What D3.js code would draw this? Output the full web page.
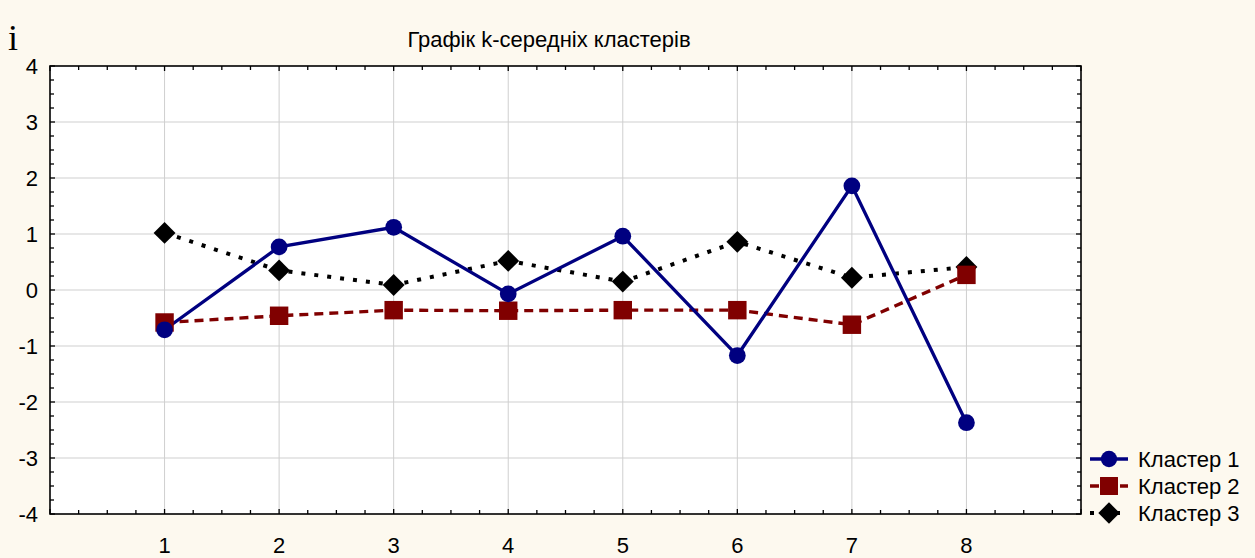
<!DOCTYPE html>
<html lang="uk">
<head>
  <meta charset="UTF-8">
  <title>Графік k-середніх кластерів</title>
  <script src="https://d3js.org/d3.v7.min.js"></script>
  <style>
    body {
      margin: 0;
      background: #fdf9ef;
      font-family: Arial, "Liberation Sans", sans-serif;
    }
    .tick-label {
      font-size: 22px;
      fill: #000;
    }
    .grid line {
      stroke: #cfcfcf;
      stroke-width: 1;
    }
  </style>
</head>
<body>
  <svg width="1255" height="558"></svg>

  <script>
    // Data
    const variables = [1, 2, 3, 4, 5, 6, 7, 8];
    const cluster1 = [-0.71, 0.77, 1.12, -0.07, 0.96, -1.17, 1.86, -2.37];
    const cluster2 = [-0.58, -0.46, -0.36, -0.37, -0.36, -0.36, -0.62, 0.27];
    const cluster3 = [1.02, 0.35, 0.09, 0.52, 0.15, 0.86, 0.22, 0.41];
    const seriesNames = ["Кластер 1", "Кластер 2", "Кластер 3"];
    const yTicks = [-4, -3, -2, -1, 0, 1, 2, 3, 4];

    const svg = d3.select("svg"),
          margin = {top: 66, right: 174, bottom: 44, left: 50},
          width = +svg.attr("width") - margin.left - margin.right,
          height = +svg.attr("height") - margin.top - margin.bottom;

    const g = svg.append("g")
                 .attr("transform", `translate(${margin.left},${margin.top})`);

    const x = d3.scaleLinear().domain([0, 9]).range([0, width]);
    const y = d3.scaleLinear().domain([-4, 4]).range([height, 0]);

    // plot background
    g.append("rect")
      .attr("width", width)
      .attr("height", height)
      .attr("fill", "#fff");

    // grid
    g.append("g").attr("class", "grid")
      .selectAll("line")
      .data(variables)
      .enter().append("line")
        .attr("x1", d => x(d)).attr("x2", d => x(d))
        .attr("y1", 0).attr("y2", height);
    g.append("g").attr("class", "grid")
      .selectAll("line")
      .data(yTicks.slice(1, -1))
      .enter().append("line")
        .attr("x1", 0).attr("x2", width)
        .attr("y1", d => y(d)).attr("y2", d => y(d));

    // inward ticks on all four sides (major + quarter minor)
    const xMinor = d3.range(0, 9.001, 0.25);
    const yMinor = d3.range(-4, 4.001, 0.25);
    const tickLen = v => Math.abs(v - Math.round(v)) < 1e-6 ? 5 : 4;
    const ticks = g.append("g").attr("stroke", "#000").attr("stroke-width", 1.3);
    xMinor.forEach(v => {
      ticks.append("line").attr("x1", x(v)).attr("x2", x(v)).attr("y1", height).attr("y2", height - tickLen(v));
      ticks.append("line").attr("x1", x(v)).attr("x2", x(v)).attr("y1", 0).attr("y2", tickLen(v));
    });
    yMinor.forEach(v => {
      ticks.append("line").attr("x1", 0).attr("x2", tickLen(v)).attr("y1", y(v)).attr("y2", y(v));
      ticks.append("line").attr("x1", width).attr("x2", width - tickLen(v)).attr("y1", y(v)).attr("y2", y(v));
    });

    // frame
    g.append("rect")
      .attr("width", width)
      .attr("height", height)
      .attr("fill", "none")
      .attr("stroke", "#000")
      .attr("stroke-width", 1.6);

    // tick labels
    g.selectAll(".ylab")
      .data(yTicks)
      .enter().append("text")
        .attr("class", "tick-label")
        .attr("x", -12)
        .attr("y", d => y(d))
        .attr("dy", "0.36em")
        .attr("text-anchor", "end")
        .text(d => d);
    g.selectAll(".xlab")
      .data(variables)
      .enter().append("text")
        .attr("class", "tick-label")
        .attr("x", d => x(d))
        .attr("y", height + 39)
        .attr("text-anchor", "middle")
        .text(d => d);

    // series
    const series = [
      {name: seriesNames[0], values: cluster1, color: "#000080", dash: null, width: 3.3, symbol: d3.symbolCircle, size: 220, rot: 0},
      {name: seriesNames[1], values: cluster2, color: "#800000", dash: "9,6", width: 3.4, symbol: d3.symbolSquare, size: 340, rot: 0},
      {name: seriesNames[2], values: cluster3, color: "#000000", dash: "4,9", width: 4, symbol: d3.symbolSquare, size: 240, rot: 45}
    ];

    const line = d3.line()
      .x((d, i) => x(variables[i]))
      .y(d => y(d));

    // draw lines in reverse so cluster 1 lies above
    series.slice().reverse().forEach(s => {
      g.append("path")
        .datum(s.values)
        .attr("fill", "none")
        .attr("stroke", s.color)
        .attr("stroke-width", s.width)
        .attr("stroke-dasharray", s.dash)
        .attr("d", line);
    });
    series.slice().reverse().forEach(s => {
      g.selectAll(null)
        .data(s.values)
        .enter().append("path")
          .attr("transform", (d, i) => `translate(${x(variables[i])},${y(d)}) rotate(${s.rot})`)
          .attr("d", d3.symbol().type(s.symbol).size(s.size))
          .attr("fill", s.color);
    });

    // title
    svg.append("text")
       .attr("x", 549)
       .attr("y", 47)
       .attr("text-anchor", "middle")
       .style("font-size", "22px")
       .text("Графік k-середніх кластерів");

    // the stray "i" in the corner
    svg.append("text")
       .attr("x", 8)
       .attr("y", 50)
       .style("font-family", "'Liberation Serif', 'DejaVu Serif', serif")
       .style("font-size", "36px")
       .text("i");

    // legend
    const legend = svg.append("g").attr("transform", "translate(1090,459)");
    series.forEach((s, i) => {
      const row = legend.append("g").attr("transform", `translate(0,${i * 27})`);
      row.append("line")
        .attr("x1", 0).attr("x2", 38)
        .attr("stroke", s.color)
        .attr("stroke-width", s.width)
        .attr("stroke-dasharray", s.dash);
      row.append("path")
        .attr("transform", `translate(19,0) rotate(${s.rot})`)
        .attr("d", d3.symbol().type(s.symbol).size(s.size * 0.95))
        .attr("fill", s.color);
      row.append("text")
        .attr("class", "tick-label")
        .attr("x", 48)
        .attr("dy", "0.36em")
        .text(s.name);
    });
  </script>
</body>
</html>
